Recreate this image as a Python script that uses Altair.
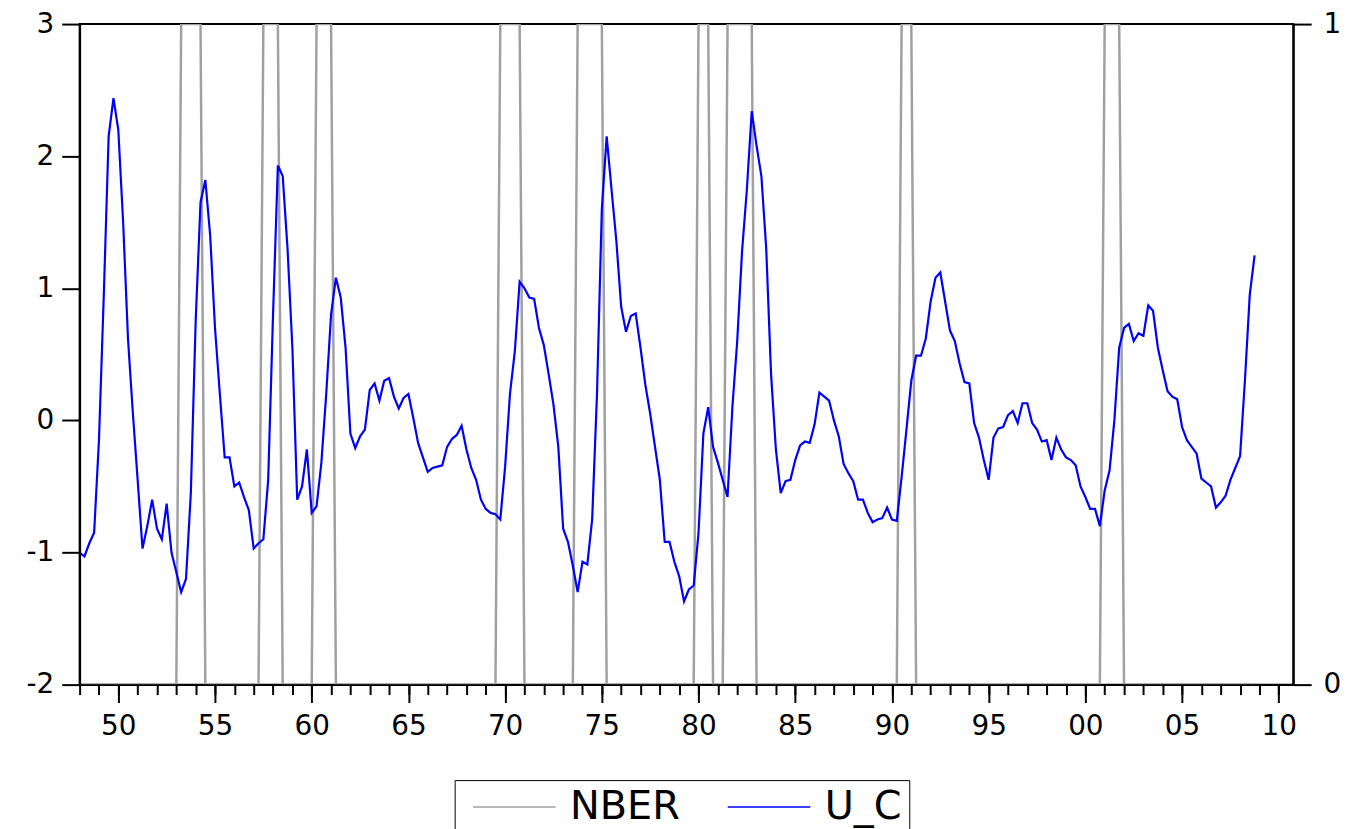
import altair as alt
import pandas as pd

START_YEAR = 1948

# Quarterly U_C values, 1948Q1 .. 2008Q4 (one row per year)
U_C = [
    -1.0, -1.03, -0.93, -0.85,   # 1948
    -0.15, 0.95, 2.15, 2.44,     # 1949
    2.2, 1.5, 0.62, 0.06,        # 1950
    -0.45, -0.97, -0.8, -0.6,    # 1951
    -0.82, -0.9, -0.63, -1.0,    # 1952
    -1.15, -1.3, -1.2, -0.55,    # 1953
    0.75, 1.65, 1.82, 1.4,       # 1954
    0.7, 0.2, -0.28, -0.28,      # 1955
    -0.5, -0.47, -0.58, -0.68,   # 1956
    -0.97, -0.93, -0.9, -0.45,   # 1957
    0.8, 1.93, 1.85, 1.3,        # 1958
    0.55, -0.6, -0.5, -0.22,     # 1959
    -0.7, -0.65, -0.32, 0.2,     # 1960
    0.8, 1.08, 0.93, 0.55,       # 1961
    -0.1, -0.21, -0.12, -0.07,   # 1962
    0.23, 0.28, 0.15, 0.3,       # 1963
    0.32, 0.18, 0.09, 0.17,      # 1964
    0.2, 0.02, -0.17, -0.28,     # 1965
    -0.39, -0.36, -0.35, -0.34,  # 1966
    -0.2, -0.14, -0.11, -0.04,   # 1967
    -0.22, -0.36, -0.45, -0.6,   # 1968
    -0.67, -0.7, -0.71, -0.75,   # 1969
    -0.35, 0.2, 0.52, 1.05,      # 1970
    1.0, 0.93, 0.92, 0.7,        # 1971
    0.57, 0.35, 0.12, -0.2,      # 1972
    -0.82, -0.92, -1.1, -1.3,    # 1973
    -1.07, -1.09, -0.75, 0.2,    # 1974
    1.6, 2.15, 1.75, 1.36,       # 1975
    0.86, 0.67, 0.79, 0.81,      # 1976
    0.55, 0.27, 0.05, -0.2,      # 1977
    -0.45, -0.92, -0.92, -1.07,  # 1978
    -1.18, -1.37, -1.28, -1.25,  # 1979
    -0.85, -0.1, 0.1, -0.2,      # 1980
    -0.32, -0.45, -0.58, 0.1,    # 1981
    0.6, 1.28, 1.75, 2.34,       # 1982
    2.08, 1.85, 1.3, 0.35,       # 1983
    -0.22, -0.55, -0.46, -0.45,  # 1984
    -0.3, -0.19, -0.16, -0.17,   # 1985
    -0.03, 0.21, 0.18, 0.15,     # 1986
    0.0, -0.12, -0.33, -0.4,     # 1987
    -0.46, -0.6, -0.6, -0.7,     # 1988
    -0.77, -0.75, -0.74, -0.66,  # 1989
    -0.75, -0.76, -0.43, -0.07,  # 1990
    0.3, 0.49, 0.49, 0.62,       # 1991
    0.9, 1.08, 1.12, 0.9,        # 1992
    0.68, 0.6, 0.43, 0.29,       # 1993
    0.28, -0.02, -0.13, -0.3,    # 1994
    -0.45, -0.13, -0.06, -0.05,  # 1995
    0.04, 0.07, -0.02, 0.13,     # 1996
    0.13, -0.02, -0.07, -0.16,   # 1997
    -0.15, -0.3, -0.13, -0.22,   # 1998
    -0.28, -0.3, -0.34, -0.5,    # 1999
    -0.58, -0.67, -0.67, -0.8,   # 2000
    -0.53, -0.38, 0.0, 0.55,     # 2001
    0.7, 0.73, 0.6, 0.66,        # 2002
    0.64, 0.87, 0.83, 0.55,      # 2003
    0.38, 0.22, 0.18, 0.16,      # 2004
    -0.05, -0.15, -0.2, -0.25,   # 2005
    -0.44, -0.47, -0.5, -0.66,   # 2006
    -0.62, -0.57, -0.45, -0.36,  # 2007
    -0.27, 0.3, 0.95, 1.25,      # 2008
]

# NBER recession dates (peak quarter, trough quarter) shown in the chart
NBER_PEAKS = ["1953Q2", "1957Q3", "1960Q2", "1969Q4", "1973Q4",
              "1980Q1", "1981Q3", "1990Q3", "2001Q1"]
NBER_TROUGHS = ["1954Q2", "1958Q2", "1961Q1", "1970Q4", "1975Q1",
                "1980Q3", "1982Q4", "1991Q1", "2001Q4"]

SERIES_NAMES = ["NBER", "U_C"]
SERIES_COLORS = ["#a0a0a0", "#0000ff"]
LEFT_TICKS = [-2, -1, 0, 1, 2, 3]
RIGHT_TICKS = [0, 1]
MAJOR_YEARS = list(range(1950, 2011, 5))
MINOR_YEARS = list(range(1948, 2011))


def q_index(s):
    y, q = s.split("Q")
    return (int(y) - START_YEAR) * 4 + int(q) - 1


n = len(U_C)
nber = [0] * n
for p, tr in zip(NBER_PEAKS, NBER_TROUGHS):
    for k in range(q_index(p), q_index(tr) + 1):
        nber[k] = 1

rows = []
for k in range(n):
    rows.append({"t": START_YEAR + k / 4, "series": "NBER", "value": nber[k]})
for k in range(n):
    rows.append({"t": START_YEAR + k / 4, "series": "U_C", "value": U_C[k]})
df = pd.DataFrame(rows)

FONT = "DejaVu Sans"
x_scale = alt.Scale(domain=[1948, 2010.75], nice=False, zero=False)
color_scale = alt.Scale(domain=SERIES_NAMES, range=SERIES_COLORS)

# a wide horizontal line as legend symbol (path is scaled by sqrt(size)/2)
legend = alt.Legend(
    title=None, orient="none", legendX=377, legendY=760,
    direction="horizontal", symbolType="M-3,0L3,0", symbolSize=765,
    symbolStrokeWidth=1.6, labelFont=FONT, labelFontSize=40,
    labelColor="black", strokeColor="black", fillColor="white",
    padding=7, symbolOffset=33, labelOffset=36, columnPadding=36,
)

common_axis = dict(
    grid=False, title=None, domainColor="black", domainWidth=2,
    tickColor="black", tickWidth=2, labelFont=FONT, labelFontSize=28,
    labelColor="black", zindex=1,
)

nber_layer = (
    alt.Chart(df)
    .transform_filter(alt.datum.series == "NBER")
    .mark_line(strokeWidth=2.5, clip=True)
    .encode(
        x=alt.X("t:Q", scale=x_scale,
                axis=alt.Axis(orient="bottom", values=MINOR_YEARS, tickSize=10,
                              labels=False, domain=False, grid=False, title=None,
                              tickColor="black", tickWidth=2, zindex=1)),
        y=alt.Y("value:Q", scale=alt.Scale(domain=[0, 1], nice=False, zero=False),
                axis=alt.Axis(orient="right", values=RIGHT_TICKS, tickSize=18,
                              labelPadding=12, labelExpr="'' + datum.value",
                              **common_axis)),
        color=alt.Color("series:N", scale=color_scale, legend=legend),
    )
)

uc_layer = (
    alt.Chart(df)
    .transform_filter(alt.datum.series == "U_C")
    .mark_line(strokeWidth=2.2, clip=True)
    .encode(
        x=alt.X("t:Q", scale=x_scale,
                axis=alt.Axis(orient="bottom", values=MAJOR_YEARS, tickSize=18,
                              labelPadding=10, labelFlush=False,
                              labelExpr="format(datum.value % 100, '02d')",
                              **common_axis)),
        y=alt.Y("value:Q", scale=alt.Scale(domain=[-2, 3], nice=False, zero=False),
                axis=alt.Axis(orient="left", values=LEFT_TICKS, tickSize=18,
                              labelPadding=8, labelExpr="'' + datum.value",
                              **common_axis)),
        color=alt.Color("series:N", scale=color_scale, legend=legend),
    )
)

chart = (
    alt.layer(nber_layer, uc_layer)
    .resolve_scale(y="independent")
    .resolve_axis(x="independent", y="independent")
    .properties(
        width=1220, height=664,
        background="white",
        autosize=alt.AutoSizeParams(type="none"),
        padding={"left": 72, "top": 14, "right": 52, "bottom": 150},
    )
    .configure_view(stroke="black", strokeWidth=2, strokeOpacity=1)
)

chart.save("out.html", embed_options={"renderer": "svg", "actions": False})
